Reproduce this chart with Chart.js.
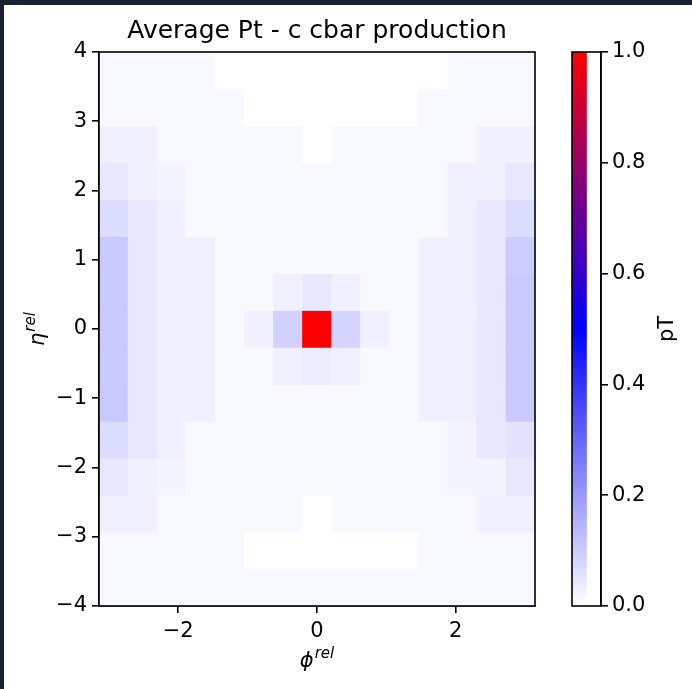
<!DOCTYPE html>
<html>
<head>
<meta charset="utf-8">
<script src="https://cdn.jsdelivr.net/npm/chart.js@4.4.1/dist/chart.umd.min.js"></script>
<style>
  html, body { margin: 0; padding: 0; background: #1b2130; }
  body { width: 692px; height: 689px; position: relative; overflow: hidden; }
  #paper { position: absolute; left: 4px; top: 5px; right: 0; bottom: 0; background: #fff; }
  #main { position: absolute; left: 0; top: 0; }
  #cbar { position: absolute; left: 560px; top: 0; }
</style>
</head>
<body>
<div id="paper"></div>
<canvas id="main" width="560" height="689"></canvas>
<canvas id="cbar" width="132" height="689"></canvas>
<script>
// 15 x 15 bins, phi in [-pi, pi], eta in [-4, 4]
const nPhi = 15;
const nEta = 15;
const phiTicks = [-2, 0, 2];
const etaTicks = [-4, -3, -2, -1, 0, 1, 2, 3, 4];
const cbarTicks = [0, 0.2, 0.4, 0.6, 0.8, 1.0];

// average pT per cell, rows from eta = +4 (top) down to eta = -4 (bottom)
const row00 = [0.014, 0.014, 0.014, 0.014, 0, 0, 0, 0, 0, 0, 0, 0, 0.014, 0.014, 0.014];
const row01 = [0.014, 0.014, 0.014, 0.014, 0.014, 0, 0, 0, 0, 0, 0, 0.014, 0.014, 0.014, 0.014];
const row02 = [0.03, 0.03, 0.014, 0.014, 0.014, 0.014, 0.014, 0, 0.014, 0.014, 0.014, 0.014, 0.014, 0.03, 0.03];
const row03 = [0.047, 0.03, 0.022, 0.014, 0.014, 0.014, 0.014, 0.014, 0.014, 0.014, 0.014, 0.014, 0.03, 0.03, 0.047];
const row04 = [0.068, 0.047, 0.03, 0.014, 0.014, 0.014, 0.014, 0.014, 0.014, 0.014, 0.014, 0.014, 0.03, 0.047, 0.068];
const row05 = [0.105, 0.047, 0.03, 0.03, 0.014, 0.014, 0.014, 0.014, 0.014, 0.014, 0.014, 0.03, 0.03, 0.047, 0.1];
const row06 = [0.105, 0.047, 0.03, 0.03, 0.014, 0.014, 0.03, 0.047, 0.03, 0.014, 0.014, 0.03, 0.03, 0.047, 0.105];
const row07 = [0.105, 0.047, 0.03, 0.03, 0.014, 0.03, 0.09, 1.0, 0.085, 0.03, 0.014, 0.03, 0.03, 0.047, 0.105];
const row08 = [0.105, 0.047, 0.03, 0.03, 0.014, 0.014, 0.03, 0.038, 0.03, 0.014, 0.014, 0.03, 0.03, 0.047, 0.105];
const row09 = [0.108, 0.047, 0.03, 0.03, 0.014, 0.014, 0.014, 0.014, 0.014, 0.014, 0.014, 0.03, 0.03, 0.047, 0.105];
const row10 = [0.068, 0.047, 0.03, 0.014, 0.014, 0.014, 0.014, 0.014, 0.014, 0.014, 0.014, 0.014, 0.022, 0.047, 0.055];
const row11 = [0.047, 0.03, 0.022, 0.014, 0.014, 0.014, 0.014, 0.014, 0.014, 0.014, 0.014, 0.014, 0.022, 0.022, 0.047];
const row12 = [0.03, 0.03, 0.014, 0.014, 0.014, 0.014, 0.014, 0, 0.014, 0.014, 0.014, 0.014, 0.014, 0.03, 0.03];
const row13 = [0.014, 0.014, 0.014, 0.014, 0.014, 0, 0, 0, 0, 0, 0, 0.014, 0.014, 0.014, 0.014];
const row14 = [0.014, 0.014, 0.014, 0.014, 0.014, 0.014, 0.014, 0.014, 0.014, 0.014, 0.014, 0.014, 0.014, 0.014, 0.014];
const rows = [row00, row01, row02, row03, row04, row05, row06, row07, row08, row09, row10, row11, row12, row13, row14];

const FONT = '"DejaVu Sans", sans-serif';
const TICK_SIZE = 21;

// bin grid
const phiMin = -Math.PI, phiMax = Math.PI;
const etaMin = -4, etaMax = 4;
const phiStep = (phiMax - phiMin) / nPhi;
const etaStep = (etaMax - etaMin) / nEta;
const phiCenters = [];
for (let j = 0; j < nPhi; j++) phiCenters.push(phiMin + (j + 0.5) * phiStep);

// white -> blue -> red
const colorFor = v => {
    let r, g, b;
    if (v <= 0.5) {
        const t = v / 0.5;
        r = g = Math.round(255 * (1 - t));
        b = 255;
    } else {
        const t = (v - 0.5) / 0.5;
        r = Math.round(255 * t);
        g = 0;
        b = Math.round(255 * (1 - t));
    }
    return `rgb(${r},${g},${b})`;
};

const datasets = rows.map((row, i) => {
    const hi = etaMax - i * etaStep;
    const lo = hi - etaStep;
    return {
        data: phiCenters.map(x => ({ x: x, y: [lo, hi] })),
        backgroundColor: row.map(colorFor),
        borderWidth: 0,
        grouped: false,
        barPercentage: 1,
        categoryPercentage: 1
    };
});

// axis box around the plot area
const frame = {
    id: 'frame',
    afterDatasetsDraw(chart) {
        const { ctx, chartArea: a } = chart;
        ctx.save();
        ctx.strokeStyle = '#000';
        ctx.lineWidth = 1.6;
        ctx.strokeRect(a.left, a.top, a.right - a.left, a.bottom - a.top);
        ctx.restore();
    }
};

const mathLabel = (ctx, base, sup, x, y, rot) => {
    ctx.save();
    ctx.translate(x, y);
    ctx.rotate(rot);
    ctx.fillStyle = '#000';
    ctx.textBaseline = 'alphabetic';
    ctx.textAlign = 'left';
    ctx.font = `italic 21px ${FONT}`;
    const wb = ctx.measureText(base).width;
    ctx.font = `italic 15px ${FONT}`;
    const ws = ctx.measureText(sup).width;
    const start = -(wb + ws + 1) / 2;
    ctx.font = `italic 21px ${FONT}`;
    ctx.fillText(base, start, 0);
    ctx.font = `italic 15px ${FONT}`;
    ctx.fillText(sup, start + wb + 1, -9);
    ctx.restore();
};

const axisTitles = {
    id: 'axisTitles',
    afterDraw(chart) {
        const { ctx, chartArea: a } = chart;
        mathLabel(ctx, '\u03D5', 'rel', (a.left + a.right) / 2, 667, 0);
        mathLabel(ctx, '\u03B7', 'rel', 44, (a.top + a.bottom) / 2, -Math.PI / 2);
    }
};

const minus = v => (v < 0 ? '\u2212' + Math.abs(v) : String(v));

const axisGrid = { offset: false, drawOnChartArea: false, drawTicks: true, tickLength: 7, color: '#000', lineWidth: 1.6 };
const axisBorder = { display: true, color: '#000', width: 1.6 };

new Chart(document.getElementById('main'), {
    type: 'bar',
    data: { datasets: datasets },
    plugins: [frame, axisTitles],
    options: {
        responsive: false,
        animation: false,
        layout: { padding: { left: 0, right: 25, top: 0, bottom: 0 } },
        plugins: {
            legend: { display: false },
            tooltip: { enabled: false },
            title: {
                display: true,
                fullSize: false,
                align: 'center',
                text: 'Average Pt - c cbar production',
                color: '#000',
                font: { family: FONT, size: 25, weight: 'normal', lineHeight: 1.2 },
                padding: { top: 16, bottom: 6 }
            }
        },
        scales: {
            x: {
                type: 'linear',
                min: phiMin,
                max: phiMax,
                offset: false,
                afterBuildTicks: scale => { scale.ticks = phiTicks.map(v => ({ value: v })); },
                afterFit: scale => { scale.height = 83; },
                grid: axisGrid,
                border: axisBorder,
                ticks: { color: '#000', font: { family: FONT, size: TICK_SIZE }, padding: 6, maxRotation: 0, callback: v => minus(v) }
            },
            y: {
                type: 'linear',
                min: etaMin,
                max: etaMax,
                afterBuildTicks: scale => { scale.ticks = etaTicks.map(v => ({ value: v })); },
                afterFit: scale => { scale.width = 99; },
                grid: axisGrid,
                border: axisBorder,
                ticks: { color: '#000', font: { family: FONT, size: TICK_SIZE }, padding: 5, callback: v => minus(v) }
            }
        }
    }
});

// colour bar
const cbarTitle = {
    id: 'cbarTitle',
    afterDraw(chart) {
        const { ctx, chartArea: a } = chart;
        ctx.save();
        ctx.translate(108, (a.top + a.bottom) / 2);
        ctx.rotate(-Math.PI / 2);
        ctx.fillStyle = '#000';
        ctx.font = `${TICK_SIZE}px ${FONT}`;
        ctx.textAlign = 'center';
        ctx.textBaseline = 'middle';
        ctx.fillText('pT', 0, 0);
        ctx.restore();
    }
};

new Chart(document.getElementById('cbar'), {
    type: 'bar',
    data: {
        labels: ['pT'],
        datasets: [{
            data: [[0, 1]],
            borderWidth: 0,
            barPercentage: 1,
            categoryPercentage: 1,
            backgroundColor: c => {
                const a = c.chart.chartArea;
                if (!a) return '#fff';
                const g = c.chart.ctx.createLinearGradient(0, a.bottom, 0, a.top);
                g.addColorStop(0, colorFor(0));
                g.addColorStop(0.5, colorFor(0.5));
                g.addColorStop(1, colorFor(1));
                return g;
            }
        }]
    },
    plugins: [frame, cbarTitle],
    options: {
        responsive: false,
        animation: false,
        layout: { padding: { left: 12, right: 0, top: 52, bottom: 83 } },
        plugins: { legend: { display: false }, tooltip: { enabled: false } },
        scales: {
            x: { display: false, offset: false },
            y: {
                position: 'right',
                min: 0,
                max: 1,
                afterBuildTicks: scale => { scale.ticks = cbarTicks.map(v => ({ value: v })); },
                afterFit: scale => { scale.width = 91; },
                grid: { drawOnChartArea: false, drawTicks: true, tickLength: 7, color: '#000', lineWidth: 1.6 },
                border: axisBorder,
                ticks: { color: '#000', font: { family: FONT, size: TICK_SIZE }, padding: 4, callback: v => v.toFixed(1) }
            }
        }
    }
});
</script>
</body>
</html>
